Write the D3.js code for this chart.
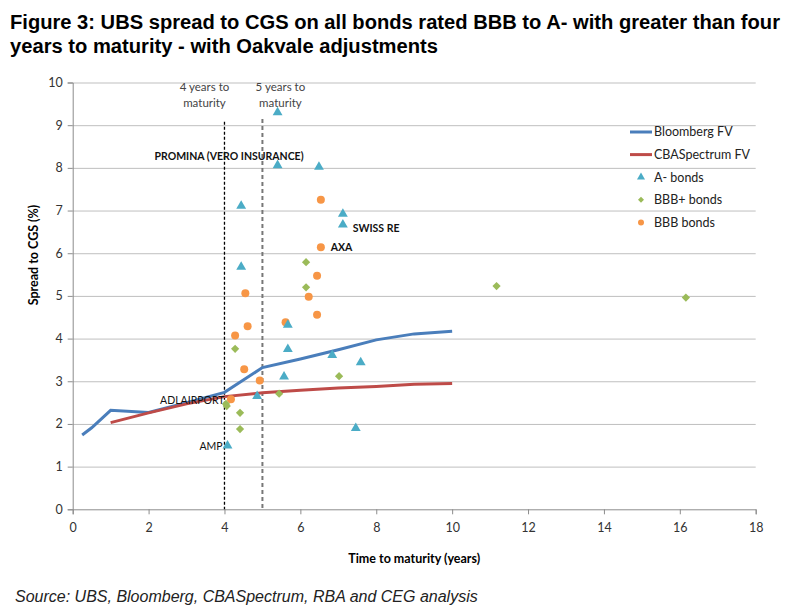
<!DOCTYPE html>
<html>
<head>
<meta charset="utf-8">
<script src="https://cdn.jsdelivr.net/npm/d3@7"></script>
<style>
  body { margin: 0; background: #fff; }
  svg text { font-family: Lato, "Open Sans", sans-serif; }
  .title { font-family: "Liberation Sans Narrow", "Arial Narrow", "Liberation Sans", sans-serif !important; font-weight: bold; font-size: 20px; fill: #000; }
  .source { font-family: "Liberation Sans", Arial, sans-serif !important; font-style: italic; font-size: 16px; fill: #222; }
  .axis text { font-size: 12.5px; fill: #333; }
  .axis path, .axis line { stroke: #8c8c8c; }
  .grid line { stroke: #bfbfbf; }
  .grid path { display: none; }
  .lbl { font-size: 10.5px; fill: #111; }
  .lbl.bold { font-weight: bold; }
  .note { font-size: 11.5px; fill: #444; }
  .legend text { font-size: 12.5px; fill: #222; }
</style>
</head>
<body>
<div id="chart"></div>
<script>
// fair value curves
let bbgTenor  = [0.25, 0.5, 1, 2, 3, 4, 5, 6, 7, 8, 9, 10]
let bbgSpread = [1.74, 1.91, 2.32, 2.27, 2.5, 2.74, 3.32, 3.52, 3.74, 3.97, 4.11, 4.17]
let cbaTenor  = [1, 2, 3, 4, 5, 6, 7, 8, 9, 10]
let cbaSpread = [2.03, 2.26, 2.47, 2.64, 2.73, 2.79, 2.84, 2.88, 2.93, 2.95]

// bonds [years, spread]
let aBonds = [[5.4, 9.3], [5.4, 8.06], [6.49, 8.02], [7.12, 6.92], [7.12, 6.67], [4.44, 7.11],
  [4.44, 5.68], [5.67, 4.32], [5.67, 3.75], [6.84, 3.61], [7.59, 3.44], [5.57, 3.11],
  [4.86, 2.65], [7.46, 1.9], [4.08, 1.49]]
let bbbPlusBonds = [[6.15, 5.79], [6.15, 5.2], [4.28, 3.76], [7.02, 3.12], [5.44, 2.71],
  [4.04, 2.47], [4.06, 2.42], [4.41, 2.26], [4.41, 1.88], [11.17, 5.23], [16.16, 4.96]]
let bbbBonds = [[6.54, 7.25], [6.54, 6.14], [6.44, 5.47], [4.55, 5.06], [6.22, 4.98],
  [6.44, 4.56], [5.61, 4.38], [4.61, 4.29], [4.28, 4.07], [4.52, 3.28], [4.93, 3.02], [4.17, 2.58]]

// issuer labels [name, years, spread, bold, anchor]
let issuerLabels = [["PROMINA (VERO INSURANCE)", 4.12, 8.28, true, "middle"],
  ["SWISS RE", 7.38, 6.59, true, "start"], ["AXA", 6.8, 6.13, true, "start"],
  ["ADLAIRPORT", 4.0, 2.56, false, "end"], ["AMP", 3.95, 1.47, false, "end"]]

let xTicks = [0, 2, 4, 6, 8, 10, 12, 14, 16, 18]
let yTicks = [0, 1, 2, 3, 4, 5, 6, 7, 8, 9, 10]

let W = 794, H = 616
let margin = {top: 82.5, right: 38.3, bottom: 106.7, left: 72.7}
let width = W - margin.left - margin.right,
    height = H - margin.top - margin.bottom

let svg = d3.select("#chart").append("svg")
  .attr("width", W).attr("height", H)

svg.append("text").attr("class", "title").attr("x", 10).attr("y", 29)
  .attr("textLength", 770).attr("lengthAdjust", "spacingAndGlyphs")
  .text("Figure 3: UBS spread to CGS on all bonds rated BBB to A- with greater than four")
svg.append("text").attr("class", "title").attr("x", 10).attr("y", 53)
  .attr("textLength", 428).attr("lengthAdjust", "spacingAndGlyphs")
  .text("years to maturity - with Oakvale adjustments")
svg.append("text").attr("class", "source").attr("x", 15).attr("y", 602)
  .text("Source: UBS, Bloomberg, CBASpectrum, RBA and CEG analysis")

let g = svg.append("g")
  .attr("transform", "translate(" + margin.left + "," + margin.top + ")")

// SCALES
let xScale = d3.scaleLinear().domain([0, 18]).range([0, width])
let yScale = d3.scaleLinear().domain([0, 10]).range([height, 0])

// GRID
g.append("g").attr("class", "grid")
  .call(d3.axisLeft(yScale).tickValues(yTicks.slice(1)).tickSize(-width).tickFormat(""))

// AXES
g.append("g").attr("class", "x axis")
  .attr("transform", "translate(0," + height + ")")
  .call(d3.axisBottom(xScale).tickValues(xTicks).tickSizeOuter(0).tickSize(5).tickPadding(9))
g.append("g").attr("class", "y axis")
  .call(d3.axisLeft(yScale).tickValues(yTicks).tickSizeOuter(0).tickSize(5).tickPadding(5))

g.append("text").attr("x", width / 2).attr("y", height + 54)
  .attr("text-anchor", "middle").style("font-weight", "bold").style("font-size", "12.5px")
  .text("Time to maturity (years)")
g.append("text").attr("transform", "translate(" + (34 - margin.left) + "," + (255 - margin.top) + ") rotate(-90)")
  .attr("text-anchor", "middle").attr("dy", "0.35em")
  .style("font-weight", "bold").style("font-size", "12.5px")
  .text("Spread to CGS (%)")

// maturity markers
g.append("line").attr("x1", xScale(4)).attr("x2", xScale(4))
  .attr("y1", 121.7 - margin.top).attr("y2", height)
  .attr("stroke", "#000").attr("stroke-width", 1.3).attr("stroke-dasharray", "3,2")
g.append("line").attr("x1", xScale(5)).attr("x2", xScale(5))
  .attr("y1", 119 - margin.top).attr("y2", height)
  .attr("stroke", "#777").attr("stroke-width", 2).attr("stroke-dasharray", "4,3")
;[[4, "4 years to"], [4, "maturity"], [5, "5 years to"], [5, "maturity"]].forEach(function(d, i) {
  g.append("text").attr("class", "note")
    .attr("x", xScale(d[0]) + (d[0] === 4 ? -20 : 18))
    .attr("y", (i % 2 ? 102.7 : 86.7) - margin.top).attr("dy", "0.35em")
    .attr("text-anchor", "middle").text(d[1])
})

// FAIR VALUE LINES
let line = d3.line().x(function(d) { return xScale(d[0]) }).y(function(d) { return yScale(d[1]) })
g.append("path").datum(d3.zip(bbgTenor, bbgSpread))
  .attr("fill", "none").attr("stroke", "#4a7ebb").attr("stroke-width", 3).attr("d", line)
g.append("path").datum(d3.zip(cbaTenor, cbaSpread))
  .attr("fill", "none").attr("stroke", "#be4b48").attr("stroke-width", 3).attr("d", line)

// BONDS
let triangle = d3.symbol().type(d3.symbolTriangle).size(42)
let diamond = d3.symbol().type(d3.symbolSquare).size(34)
function place(d) { return "translate(" + xScale(d[0]) + "," + yScale(d[1]) + ")" }

g.selectAll(".bbb").data(bbbBonds).enter().append("circle")
  .attr("class", "bbb").attr("r", 4)
  .attr("cx", function(d) { return xScale(d[0]) }).attr("cy", function(d) { return yScale(d[1]) })
  .attr("fill", "#f79646")
g.selectAll(".bbbp").data(bbbPlusBonds).enter().append("path")
  .attr("class", "bbbp").attr("d", diamond)
  .attr("transform", function(d) { return place(d) + " rotate(45)" })
  .attr("fill", "#9bbb59")
g.selectAll(".abond").data(aBonds).enter().append("path")
  .attr("class", "abond").attr("d", triangle)
  .attr("transform", place).attr("fill", "#4bacc6")

// issuer labels
g.selectAll(".lbl").data(issuerLabels).enter().append("text")
  .attr("class", function(d) { return "lbl" + (d[3] ? " bold" : "") })
  .attr("x", function(d) { return xScale(d[1]) }).attr("y", function(d) { return yScale(d[2]) })
  .attr("dy", "0.35em").attr("text-anchor", function(d) { return d[4] })
  .text(function(d) { return d[0] })

// LEGEND
let legend = svg.append("g").attr("class", "legend").attr("transform", "translate(630,132)")
let legendItems = [["Bloomberg FV", "line", "#4a7ebb"], ["CBASpectrum FV", "line", "#be4b48"],
  ["A- bonds", "tri", "#4bacc6"], ["BBB+ bonds", "dia", "#9bbb59"], ["BBB bonds", "dot", "#f79646"]]
legendItems.forEach(function(d, i) {
  let row = legend.append("g").attr("transform", "translate(0," + (i * 22.6) + ")")
  if (d[1] === "line") {
    row.append("line").attr("x1", 0).attr("x2", 22).attr("stroke", d[2]).attr("stroke-width", 3)
  } else if (d[1] === "tri") {
    row.append("path").attr("d", d3.symbol().type(d3.symbolTriangle).size(28)).attr("transform", "translate(11,0)").attr("fill", d[2])
  } else if (d[1] === "dia") {
    row.append("path").attr("d", d3.symbol().type(d3.symbolSquare).size(18)).attr("transform", "translate(11,0) rotate(45)").attr("fill", d[2])
  } else {
    row.append("circle").attr("cx", 11).attr("r", 3).attr("fill", d[2])
  }
  row.append("text").attr("x", 24).attr("dy", "0.35em").text(d[0])
})
</script>
</body>
</html>
